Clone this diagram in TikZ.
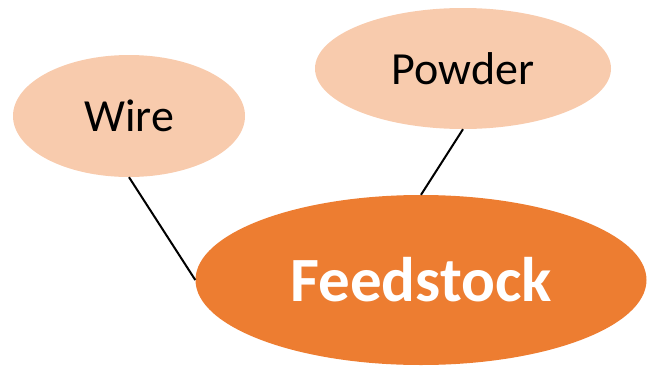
\documentclass[tikz,border=0pt]{standalone}
\usepackage{fontspec}
\setmainfont{Carlito}
\usetikzlibrary{shapes.geometric}
\definecolor{peach}{HTML}{F8CBAD}
\definecolor{feedorange}{HTML}{ED7D31}
\begin{document}
\begin{tikzpicture}[x=1pt, y=-1pt,
    bubble/.style={ellipse, fill=peach, inner sep=0pt, font=\fontsize{46}{50}\selectfont},
    bigbubble/.style={ellipse, fill=feedorange, inner sep=0pt, text=white, font=\fontsize{63}{66}\selectfont\bfseries},
    link/.style={line width=2pt}]
    \useasboundingbox (0,0) rectangle (647,367);
    
    %branches
    \node[bubble, minimum width=232pt, minimum height=122pt] (W) at (129,116) {Wire};
    \node[bubble, minimum width=296pt, minimum height=121pt] (P) at (463,68.5) {Powder};
    
    %main
    \node[bigbubble, minimum width=451pt, minimum height=170pt] (F) at (421,280) {Feedstock};
    
    \foreach \a/\b in {W/west,P/north}
    {
        \draw[link] (\a.south) -- (F.\b);
    }
\end{tikzpicture}
\end{document}
